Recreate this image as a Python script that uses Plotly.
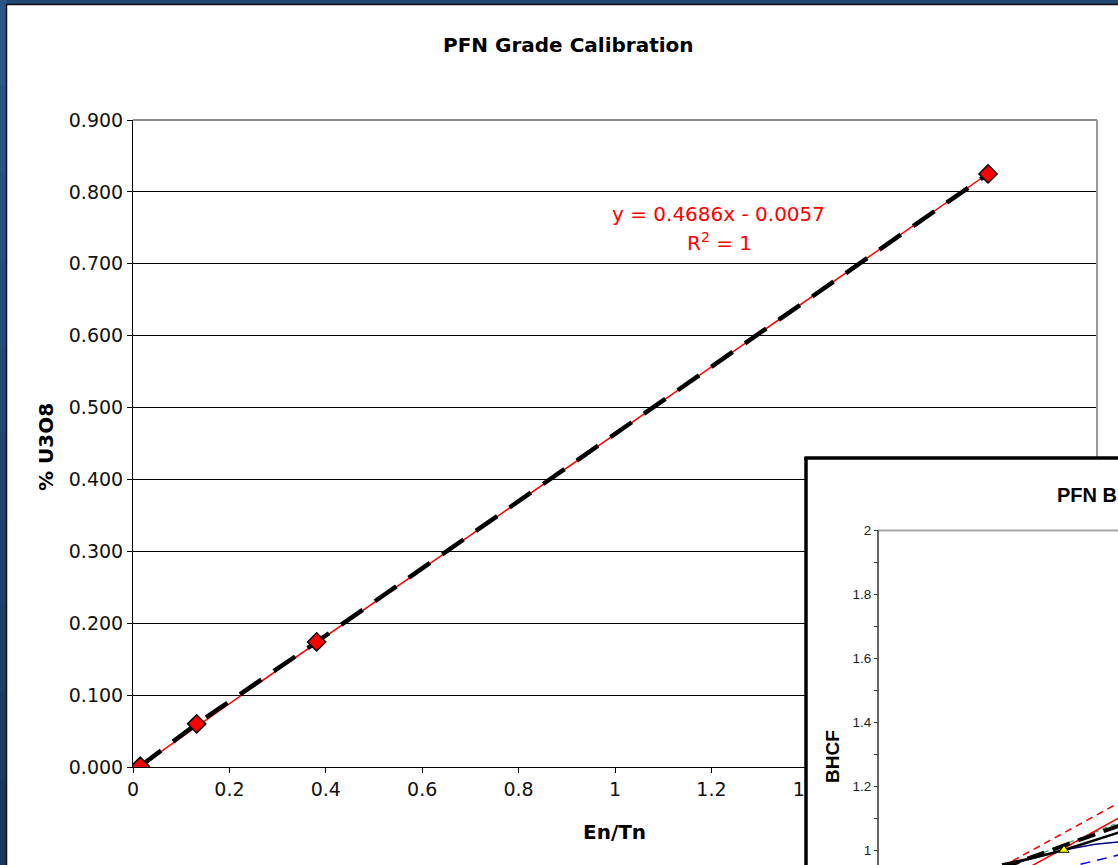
import plotly.graph_objects as go

W, H = 1118, 865

# ---- main chart: PFN grade calibration standards ----
en_tn = [0.015, 0.132, 0.381, 1.774]
grade_u3o8 = [0.001, 0.060, 0.174, 0.825]

# linear trend reported for the standards
fit_slope = 0.4686
fit_intercept = -0.0057

x_ticks = [0, 0.2, 0.4, 0.6, 0.8, 1.0, 1.2, 1.4, 1.6, 1.8, 2.0]
y_ticks = [0.0, 0.1, 0.2, 0.3, 0.4, 0.5, 0.6, 0.7, 0.8, 0.9]

# ---- inset: borehole correction factor curves ----
hole_x = [4, 5, 6, 7, 8]
bhcf_red_dash = [0.948, 1.001, 1.054, 1.107, 1.160]
bhcf_green_dash = [0.940, 0.978, 1.017, 1.056, 1.095]
bhcf_red_solid = [0.899, 0.953, 1.006, 1.059, 1.113]
bhcf_blue_solid = [0.945, 0.975, 1.000, 1.018, 1.027]
bhcf_black_solid = [0.955, 0.975, 1.000, 1.030, 1.062]
bhcf_black_dash = [0.944, 0.979, 1.014, 1.049, 1.084]
hole_x_blue_dash = [6, 7, 8]
bhcf_blue_dash = [0.943, 0.967, 0.990]
ref_x = [6]
ref_bhcf = [1.0]

inset_y_ticks = [1.0, 1.2, 1.4, 1.6, 1.8, 2.0]
inset_y_ticktext = ["1", "1.2", "1.4", "1.6", "1.8", "2"]
inset_y_minor = [1.1, 1.3, 1.5, 1.7, 1.9]


def px(p):
    return p / W


def py(p):
    return 1 - p / H


MAIN_FONT = "DejaVu Sans"
INSET_FONT = "Liberation Sans"

fig = go.Figure()

# trend line over the span of the standards
trend_x = [min(en_tn), max(en_tn)]
trend_y = [fit_slope * v + fit_intercept for v in trend_x]
fig.add_trace(go.Scatter(
    x=trend_x, y=trend_y, mode="lines",
    line=dict(color="#ff0000", width=1.5),
    xaxis="x", yaxis="y", hoverinfo="skip"))

fig.add_trace(go.Scatter(
    x=en_tn, y=grade_u3o8, mode="lines+markers",
    line=dict(color="black", width=4.5, dash="26px,15px"),
    marker=dict(symbol="diamond", size=14, color="#ff0000",
                line=dict(color="black", width=1.5)),
    xaxis="x", yaxis="y"))

# inset curves
inset_lines = [
    (hole_x, bhcf_red_dash, dict(color="#ff0000", width=1.5, dash="7px,5px")),
    (hole_x_blue_dash, bhcf_blue_dash, dict(color="#0000ff", width=1.5, dash="10px,7px")),
    (hole_x, bhcf_green_dash, dict(color="#339966", width=1.2, dash="5px,4px")),
    (hole_x, bhcf_red_solid, dict(color="#ff0000", width=1.5)),
    (hole_x, bhcf_blue_solid, dict(color="#000080", width=1.5)),
    (hole_x, bhcf_black_solid, dict(color="black", width=2.5)),
    (hole_x, bhcf_black_dash, dict(color="black", width=4, dash="18px,9px")),
]
for xs, ys, ln in inset_lines:
    fig.add_trace(go.Scatter(x=xs, y=ys, mode="lines", line=ln,
                             xaxis="x2", yaxis="y2", hoverinfo="skip"))

fig.add_trace(go.Scatter(
    x=ref_x, y=ref_bhcf, mode="markers",
    marker=dict(symbol="triangle-up", size=9, color="#ffff00",
                line=dict(color="black", width=1)),
    xaxis="x2", yaxis="y2"))

# ---- frame and background shapes ----
shapes = []
# left edge gradient of the blue surround
bands = ["#2c5687", "#2a5383", "#28507e", "#264c79", "#244974", "#22456f",
         "#20426a", "#1e3f66", "#1c3b61", "#1a385d"]
n = len(bands)
for i, c in enumerate(bands):
    shapes.append(dict(type="rect", xref="paper", yref="paper", layer="below",
                       x0=px(0), x1=px(7), y0=py(H * i / n), y1=py(H * (i + 1) / n),
                       fillcolor=c, line=dict(width=0)))
# white chart area
shapes.append(dict(type="rect", xref="paper", yref="paper", layer="below",
                   x0=px(6.5), x1=px(W + 10), y0=py(4.5), y1=py(H + 10),
                   fillcolor="white", line=dict(color="#111111", width=1.5)))
# main plot area border (top and right, grey)
shapes.append(dict(type="line", xref="paper", yref="paper", layer="above",
                   x0=px(133), x1=px(1097), y0=py(120), y1=py(120),
                   line=dict(color="#8c8c8c", width=2)))
shapes.append(dict(type="line", xref="paper", yref="paper", layer="above",
                   x0=px(1097), x1=px(1097), y0=py(120), y1=py(458),
                   line=dict(color="#999999", width=2)))
# inset frame
shapes.append(dict(type="line", xref="paper", yref="paper", layer="above",
                   x0=px(806), x1=px(806), y0=py(457), y1=py(H + 5),
                   line=dict(color="black", width=3.5)))
shapes.append(dict(type="line", xref="paper", yref="paper", layer="above",
                   x0=px(804.5), x1=px(W + 5), y0=py(458), y1=py(458),
                   line=dict(color="black", width=3.5)))
# inset plot-area top border and value axis line
shapes.append(dict(type="line", xref="paper", yref="paper", layer="above",
                   x0=px(878), x1=px(W + 5), y0=py(530.5), y1=py(530.5),
                   line=dict(color="#a6a6a6", width=2)))
shapes.append(dict(type="line", xref="paper", yref="paper", layer="above",
                   x0=px(878), x1=px(878), y0=py(530.5), y1=py(H + 5),
                   line=dict(color="#333333", width=1.5)))

# ---- text ----
eq_text = f"y = {fit_slope}x - {abs(fit_intercept)}"
annotations = [
    dict(text="<b>PFN Grade Calibration</b>", x=px(569), y=py(45),
         font=dict(family=MAIN_FONT, size=20, color="black")),
    dict(text="<b>En/Tn</b>", x=px(614), y=py(832),
         font=dict(family=MAIN_FONT, size=20, color="black")),
    dict(text="<b>% U3O8</b>", x=px(46), y=py(447), textangle=-90,
         font=dict(family=MAIN_FONT, size=20, color="black")),
    dict(text=eq_text, x=px(718), y=py(214),
         font=dict(family=MAIN_FONT, size=20, color="#ff0000")),
    dict(text="R<sup>2</sup> = 1", x=px(719), y=py(242),
         font=dict(family=MAIN_FONT, size=20, color="#ff0000")),
    dict(text="<b>PFN BHCF Curves</b>", x=px(1055), y=py(495), xanchor="left",
         font=dict(family=INSET_FONT, size=20, color="black")),
    dict(text="<b>BHCF</b>", x=px(832), y=py(757), textangle=-90,
         font=dict(family=INSET_FONT, size=19, color="black")),
]
for a in annotations:
    a.setdefault("xanchor", "center")
    a.update(xref="paper", yref="paper", yanchor="middle", showarrow=False)

# inset axis scale: value 1 at 850 px, 2 at 530.5 px; x scale 31 px per unit from 878 px
inset_px_per_y = 850 - 530.5
inset_y_range = [1 - (H - 850) / inset_px_per_y, 2 + (530.5 - 458) / inset_px_per_y]
inset_x_range = [(806 - 878) / 31, (W - 878) / 31]

fig.update_layout(
    width=W, height=H,
    margin=dict(l=0, r=0, t=0, b=0, pad=0, autoexpand=False),
    paper_bgcolor="#224772",
    plot_bgcolor="white",
    showlegend=False,
    shapes=shapes,
    annotations=annotations,
    xaxis=dict(
        domain=[px(133), px(1097)], range=[0, 2], anchor="y",
        tickmode="array", tickvals=x_ticks,
        ticks="outside", ticklen=5, tickcolor="black",
        showline=True, linecolor="black", linewidth=1,
        showgrid=False, zeroline=False,
        tickfont=dict(family=MAIN_FONT, size=19, color="#111111"),
    ),
    yaxis=dict(
        domain=[py(767), py(120)], range=[0, 0.9], anchor="x",
        tickmode="array", tickvals=y_ticks, tickformat=".3f",
        ticks="outside", ticklen=5, tickcolor="black",
        showline=True, linecolor="black", linewidth=1,
        showgrid=True, gridcolor="black", gridwidth=1, zeroline=False,
        tickfont=dict(family=MAIN_FONT, size=19, color="#111111"),
    ),
    xaxis2=dict(
        domain=[px(806), 1], range=inset_x_range, anchor="y2",
        visible=False,
    ),
    yaxis2=dict(
        domain=[0, py(458)], range=inset_y_range, anchor="free",
        position=px(878),
        tickmode="array", tickvals=inset_y_ticks, ticktext=inset_y_ticktext,
        ticks="outside", ticklen=4, tickcolor="#333333", tickwidth=1,
        minor=dict(tickmode="array", tickvals=inset_y_minor, ticks="outside",
                   ticklen=4, tickcolor="#333333", showgrid=False),
        showline=False, showgrid=False, zeroline=False,
        tickfont=dict(family=INSET_FONT, size=13.5, color="#222222"),
    ),
)

fig.write_html("out.html")
